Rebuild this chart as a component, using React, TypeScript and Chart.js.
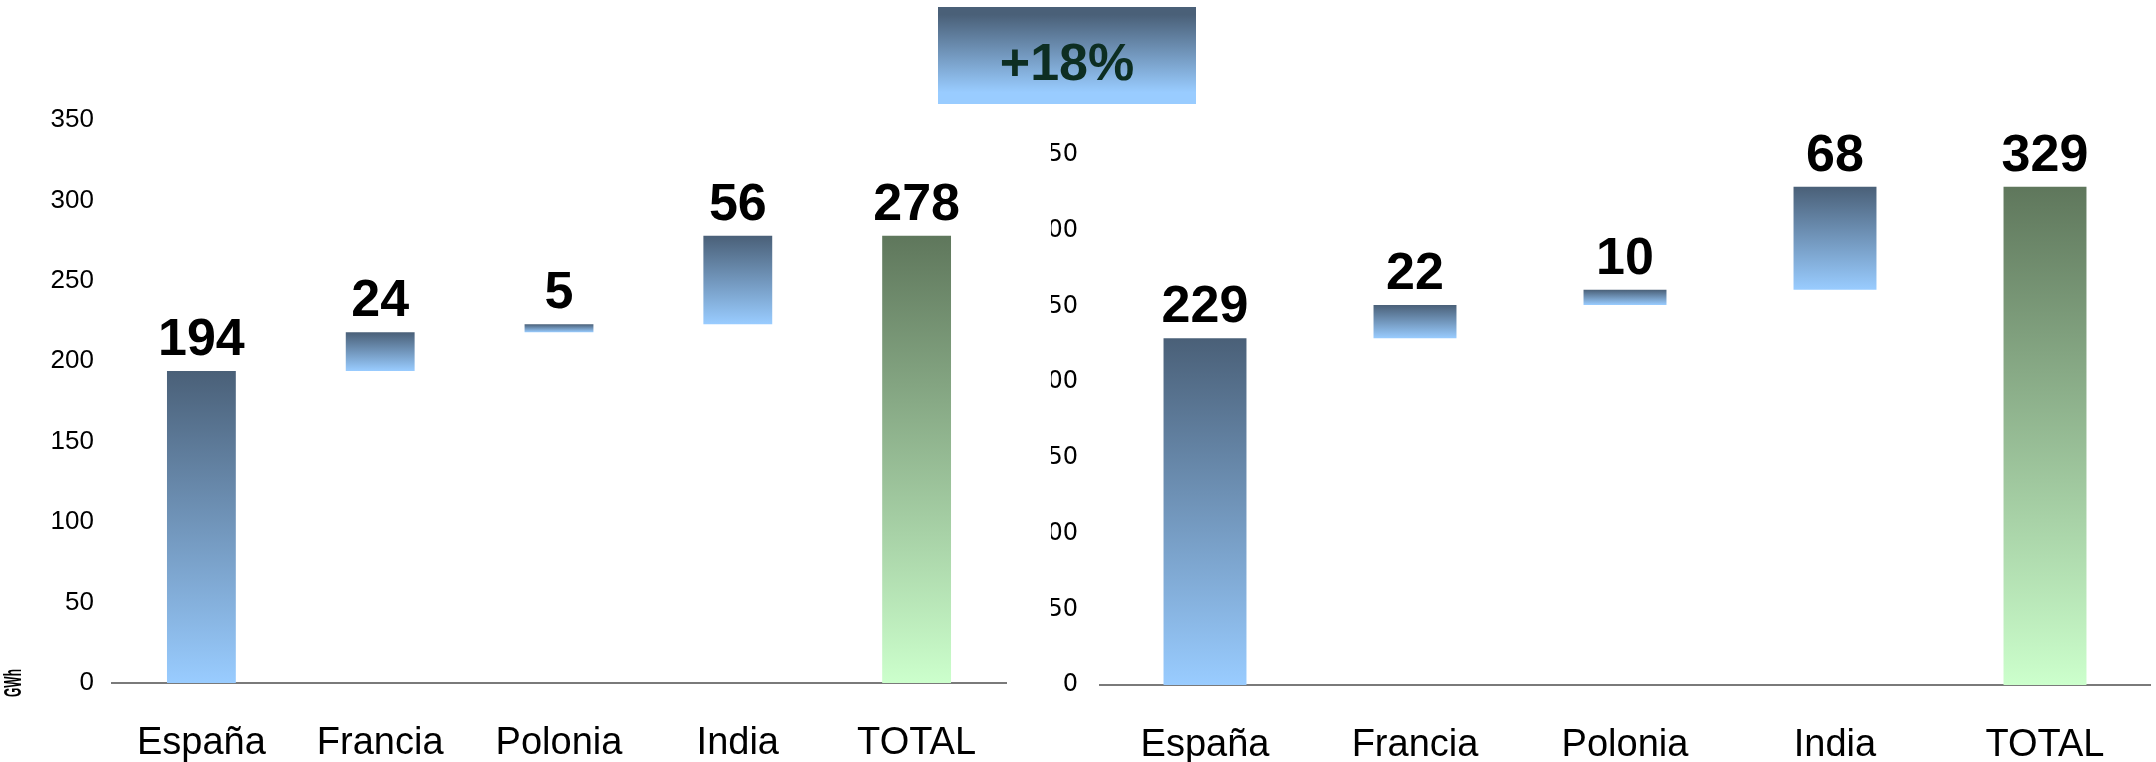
import React, { useEffect, useRef } from "react";
import { Chart, registerables } from "chart.js";

Chart.register(...registerables);

// ---------- data ----------
const categories = ["España", "Francia", "Polonia", "India", "TOTAL"];

const leftRanges: [number, number][] = [
  [0, 194],
  [194, 218],
  [218, 223],
  [223, 278],
  [0, 278],
];
const leftValueLabels = ["194", "24", "5", "56", "278"];

const rightRanges: [number, number][] = [
  [0, 229],
  [229, 251],
  [251, 261],
  [261, 329],
  [0, 329],
];
const rightValueLabels = ["229", "22", "10", "68", "329"];

const yMin = 0;
const yMax = 350;
const yStep = 50;

const growthLabel = "+18%";
const unitLabel = "GWh";

// ---------- styles ----------
const BLUE_TOP = "#4a6078";
const BLUE_BOTTOM = "#99ccff";
const GREEN_TOP = "#5f775c";
const GREEN_BOTTOM = "#ccffcc";
const TOTAL_INDEX = 4;

function gradientColor(ctx: any) {
  const isTotal = ctx.dataIndex === TOTAL_INDEX;
  const top = isTotal ? GREEN_TOP : BLUE_TOP;
  const bottom = isTotal ? GREEN_BOTTOM : BLUE_BOTTOM;
  const chart = ctx.chart;
  const ys = chart && chart.scales ? chart.scales.y : null;
  const raw = ctx.raw;
  if (!ys || !Array.isArray(raw)) return top;
  const pTop = ys.getPixelForValue(raw[1]);
  const pBot = ys.getPixelForValue(raw[0]);
  if (!isFinite(pTop) || !isFinite(pBot) || pTop === pBot) return top;
  const g = chart.ctx.createLinearGradient(0, pTop, 0, pBot);
  g.addColorStop(0, top);
  g.addColorStop(1, bottom);
  return g;
}

const valueLabelPlugin = {
  id: "valueLabels",
  afterDatasetsDraw(chart: any, _args: any, opts: any) {
    const labels: string[] = opts.labels || [];
    const meta = chart.getDatasetMeta(0);
    const ctx = chart.ctx;
    ctx.save();
    ctx.font = 'bold 52px "Liberation Sans", Arial, sans-serif';
    ctx.fillStyle = "#000";
    ctx.textAlign = "center";
    ctx.textBaseline = "alphabetic";
    meta.data.forEach((el: any, i: number) => {
      if (labels[i] == null) return;
      ctx.fillText(labels[i], el.x, el.y - 16);
    });
    ctx.restore();
  },
};

const unitPlugin = {
  id: "unitLabel",
  afterDraw(chart: any, _args: any, opts: any) {
    if (!opts || !opts.text) return;
    const ctx = chart.ctx;
    const ys = chart.scales.y;
    ctx.save();
    ctx.translate(opts.x, ys.getPixelForValue(0));
    ctx.rotate(-Math.PI / 2);
    ctx.scale(0.5, 1);
    ctx.font = 'bold 24px "Liberation Sans", Arial, sans-serif';
    ctx.fillStyle = "#000";
    ctx.textAlign = "center";
    ctx.textBaseline = "middle";
    ctx.fillText(opts.text, 0, 0);
    ctx.restore();
  },
};

function makeConfig(
  ranges: [number, number][],
  labels: string[],
  opts: {
    barPct: number;
    padTop: number;
    padRight: number;
    yWidth: number;
    xHeight: number;
    yFont: string;
    yFontSize: number;
    yPad: number;
    unit?: string;
  }
): any {
  return {
    type: "bar",
    data: {
      labels: categories,
      datasets: [
        {
          data: ranges,
          backgroundColor: gradientColor,
          borderWidth: 0,
          barPercentage: opts.barPct,
          categoryPercentage: 1,
        },
      ],
    },
    options: {
      responsive: false,
      animation: false,
      devicePixelRatio: 1,
      layout: {
        padding: { top: opts.padTop, right: opts.padRight, bottom: 0, left: 0 },
      },
      plugins: {
        legend: { display: false },
        tooltip: { enabled: false },
        valueLabels: { labels },
        unitLabel: { text: opts.unit, x: 14 },
      },
      scales: {
        x: {
          grid: { display: false, drawTicks: false },
          border: { display: true, color: "#7a7a7a", width: 2 },
          ticks: {
            color: "#000",
            font: { family: '"Liberation Sans", Arial, sans-serif', size: 38 },
            padding: 38,
            maxRotation: 0,
            autoSkip: false,
          },
          afterFit(scale: any) {
            scale.height = opts.xHeight;
          },
        },
        y: {
          min: yMin,
          max: yMax,
          grid: { display: false, drawTicks: false },
          border: { display: false },
          ticks: {
            stepSize: yStep,
            color: "#000",
            font: { family: opts.yFont, size: opts.yFontSize },
            padding: opts.yPad,
          },
          afterFit(scale: any) {
            scale.width = opts.yWidth;
          },
        },
      },
    },
    plugins: [valueLabelPlugin, unitPlugin],
  };
}

export default function App() {
  const leftRef = useRef<HTMLCanvasElement | null>(null);
  const rightRef = useRef<HTMLCanvasElement | null>(null);

  useEffect(() => {
    document.body.style.margin = "0";
    document.body.style.overflow = "hidden";
    const charts: Chart[] = [];
    if (leftRef.current) {
      charts.push(
        new Chart(
          leftRef.current,
          makeConfig(leftRanges, leftValueLabels, {
            barPct: 0.385,
            padTop: 120,
            padRight: 34,
            yWidth: 112,
            xHeight: 79,
            yFont: '"Liberation Sans", Arial, sans-serif',
            yFontSize: 26,
            yPad: 18,
            unit: unitLabel,
          })
        )
      );
    }
    if (rightRef.current) {
      charts.push(
        new Chart(
          rightRef.current,
          makeConfig(rightRanges, rightValueLabels, {
            barPct: 0.395,
            padTop: 155,
            padRight: 6,
            yWidth: 100,
            xHeight: 77,
            yFont: '"DejaVu Sans", sans-serif',
            yFontSize: 24,
            yPad: 22,
          })
        )
      );
    }
    return () => charts.forEach((c) => c.destroy());
  }, []);

  return (
    <div
      style={{
        position: "absolute",
        left: 0,
        top: 0,
        width: 2156,
        height: 762,
        overflow: "hidden",
        background: "#fff",
      }}
    >
      <canvas
        ref={leftRef}
        width={1040}
        height={762}
        style={{ position: "absolute", left: 0, top: 0, width: 1040, height: 762 }}
      />
      <div
        style={{
          position: "absolute",
          left: 1051,
          top: 0,
          width: 1105,
          height: 762,
          overflow: "hidden",
        }}
      >
        <canvas
          ref={rightRef}
          width={1156}
          height={762}
          style={{ position: "absolute", left: -51, top: 0, width: 1156, height: 762 }}
        />
      </div>
      <div
        style={{
          position: "absolute",
          left: 938,
          top: 7,
          width: 258,
          height: 97,
          boxSizing: "border-box",
          paddingTop: 12,
          background: "linear-gradient(to bottom, #4a6078 8%, #99ccff 88%)",
          display: "flex",
          alignItems: "center",
          justifyContent: "center",
          font: 'bold 52px "Liberation Sans", Arial, sans-serif',
          color: "#0d2e22",
        }}
      >
        {growthLabel}
      </div>
    </div>
  );
}
